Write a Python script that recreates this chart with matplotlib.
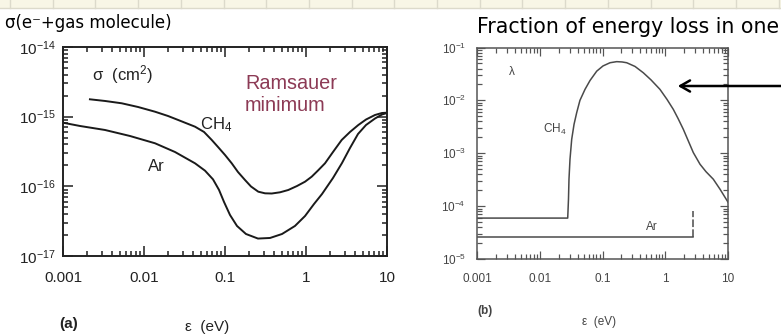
import matplotlib
matplotlib.use("Agg")
import matplotlib.pyplot as plt
from matplotlib.ticker import LogLocator, FixedLocator, FixedFormatter, NullFormatter
from matplotlib.lines import Line2D
from matplotlib.patches import Rectangle, FancyArrowPatch

plt.rcParams["font.family"] = ["Liberation Sans", "DejaVu Sans"]
plt.rcParams["mathtext.fontset"] = "custom"
plt.rcParams["mathtext.rm"] = "Liberation Sans"
plt.rcParams["mathtext.it"] = "Liberation Sans"
plt.rcParams["mathtext.default"] = "regular"

# ---- (a) electron-molecule cross section sigma (cm^2) vs energy (eV)
ch4_sigma_e = [0.00215, 0.0033, 0.00531, 0.00844, 0.01368, 0.01977, 0.02648,
               0.04266, 0.0551, 0.0686, 0.082, 0.1, 0.1211, 0.1445, 0.1766,
               0.2094, 0.2575, 0.312, 0.3776, 0.4777, 0.604, 0.7745, 0.973,
               1.175, 1.406, 1.716, 2.154, 2.759, 3.493, 4.424, 5.506, 7.11,
               8.67, 10.0]
ch4_sigma = [1.775e-15, 1.68e-15, 1.556e-15, 1.377e-15, 1.178e-15, 1.023e-15,
             8.95e-16, 7.18e-16, 6.03e-16, 4.63e-16, 3.67e-16, 2.82e-16,
             2.14e-16, 1.607e-16, 1.233e-16, 9.95e-17, 8.38e-17, 7.94e-17,
             7.89e-17, 8.21e-17, 8.86e-17, 1.011e-16, 1.166e-16, 1.375e-16,
             1.687e-16, 2.14e-16, 3.11e-16, 4.63e-16, 6.03e-16, 7.59e-16,
             9.1e-16, 1.057e-15, 1.129e-15, 1.14e-15]
ar_sigma_e = [0.001, 0.00162, 0.0033, 0.00671, 0.01368, 0.02415, 0.04266,
              0.0566, 0.0711, 0.0843, 0.0973, 0.1153, 0.1406, 0.1815, 0.2553,
              0.36, 0.506, 0.731, 0.973, 1.256, 1.577, 2.154, 2.782, 3.493,
              4.385, 5.506, 7.11, 8.67, 10.0]
ar_sigma = [8.19e-16, 7.35e-16, 6.44e-16, 5.28e-16, 4.15e-16, 3.11e-16,
            2.14e-16, 1.68e-16, 1.26e-16, 8.9e-17, 5.96e-17, 3.88e-17,
            2.7e-17, 2.07e-17, 1.78e-17, 1.815e-17, 2.07e-17, 2.7e-17,
            3.75e-17, 5.58e-17, 7.76e-17, 1.318e-16, 2.16e-16, 3.55e-16,
            5.64e-16, 7.59e-16, 9.41e-16, 1.074e-15, 1.129e-15]

# ---- (b) fraction of energy lost per collision lambda vs energy (eV)
ch4_lambda_e = [0.001, 0.0279, 0.0287, 0.02923, 0.03034, 0.0323, 0.0352,
                0.0388, 0.0437, 0.0526, 0.0633, 0.0809, 0.1019, 0.1318, 0.1683,
                0.2047, 0.2432, 0.33, 0.4467, 0.593, 0.824, 1.066, 1.344, 1.596,
                1.94, 2.306, 2.8, 3.58, 4.46, 5.83, 7.46, 10.0]
ch4_lambda = [5.94e-5, 5.94e-5, 1.355e-4, 3.23e-4, 7.7e-4, 1.837e-3, 3.53e-3,
              5.86e-3, 0.01, 0.01614, 0.0238, 0.0357, 0.0448, 0.0515, 0.054,
              0.0533, 0.0515, 0.0438, 0.0333, 0.0244, 0.01614, 0.01044,
              6.76e-3, 4.57e-3, 2.84e-3, 1.76e-3, 1.03e-3, 6.2e-4, 4.48e-4,
              3.23e-4, 2.09e-4, 1.19e-4]
ar_lambda_e = [0.001, 2.74]
ar_lambda = [2.57e-5, 2.57e-5]
ar_cutoff_e = [2.74, 2.74]
ar_cutoff = [2.57e-5, 8.1e-5]

x_ticks = [0.001, 0.01, 0.1, 1, 10]
x_ticklabels = ["0.001", "0.01", "0.1", "1", "10"]

W, H = 781, 335
fig = plt.figure(figsize=(W / 100, H / 100), dpi=100)
fig.patch.set_facecolor("white")


def fx(px):
    return px / W


def fy(py):
    return 1 - py / H


# notebook paper strip along the top edge
fig.add_artist(Rectangle((0, fy(7.5)), 1, 7.5 / H, transform=fig.transFigure,
                         facecolor="#f8f6e6", edgecolor="none", zorder=0))
fig.add_artist(Line2D([0, 1], [fy(7.5), fy(7.5)], transform=fig.transFigure,
                      color="#dcdacb", lw=1.0))
gx = 10.0
while gx < W:
    fig.add_artist(Line2D([fx(gx), fx(gx)], [fy(7.5), 1], transform=fig.transFigure,
                          color="#dcdacb", lw=1.0))
    gx += 42.7


def style_log_axes(ax, color, major_len, minor_len, width, labelsize, labelcolor,
                   xpad, ypad):
    ax.set_xscale("log")
    ax.set_yscale("log")
    for s in ax.spines.values():
        s.set_color(color)
        s.set_linewidth(width)
    ax.xaxis.set_major_locator(FixedLocator(x_ticks))
    ax.xaxis.set_major_formatter(FixedFormatter(x_ticklabels))
    ax.xaxis.set_minor_locator(LogLocator(base=10, subs=(2, 3, 4, 5, 6, 7, 8, 9)))
    ax.xaxis.set_minor_formatter(NullFormatter())
    ax.yaxis.set_minor_locator(LogLocator(base=10, subs=(2, 3, 4, 5, 6, 7, 8, 9)))
    ax.yaxis.set_minor_formatter(NullFormatter())
    ax.tick_params(which="both", direction="in", top=True, right=True,
                   color=color, width=width * 0.8)
    ax.tick_params(which="major", length=major_len, labelsize=labelsize,
                   labelcolor=labelcolor)
    ax.tick_params(axis="x", which="major", pad=xpad)
    ax.tick_params(axis="y", which="major", pad=ypad)
    ax.tick_params(which="minor", length=minor_len)


# ---------- panel (a)
axa = fig.add_axes([fx(63), fy(256), fx(387 - 63), (256 - 47) / H])
axa.plot(ch4_sigma_e, ch4_sigma, color="#1a1a1a", lw=1.4)
axa.plot(ar_sigma_e, ar_sigma, color="#1a1a1a", lw=1.4)
axa.set_xlim(0.001, 10)
axa.set_ylim(1e-17, 1e-14)
style_log_axes(axa, "#222222", 7, 3.5, 1.4, 11, "#222222", 11, 5)
axa.text(0.00228, 3.96e-15, "σ  (cm$^2$)", fontsize=12, color="#222222",
         va="center", ha="left")
axa.text(0.0491, 7.59e-16, "CH$_4$", fontsize=12, color="#222222",
         va="center", ha="left")
axa.text(0.0112, 1.9e-16, "Ar", fontsize=12, color="#222222",
         va="center", ha="left")
axa.text(0.1766, 2.05e-15, "Ramsauer\nminimum", fontsize=14.3, color="#8c3a55",
         va="center", ha="left", linespacing=1.2)

fig.text(fx(69), fy(324), "(a)", fontsize=11, fontweight="bold", color="#222222",
         ha="center", va="center")
fig.text(fx(207), fy(327), "ε  (eV)", fontsize=11, color="#222222",
         ha="center", va="center")

# ---------- panel (b)
axb = fig.add_axes([fx(477), fy(259), fx(728 - 477), (259 - 47.5) / H])
axb.plot(ch4_lambda_e, ch4_lambda, color="#4a4a4a", lw=1.1)
axb.plot(ar_lambda_e, ar_lambda, color="#4a4a4a", lw=1.1)
axb.plot(ar_cutoff_e, ar_cutoff, color="#4a4a4a", lw=1.1, ls=(0, (5, 1.5)))
axb.set_xlim(0.001, 10)
axb.set_ylim(1e-5, 1e-1)
style_log_axes(axb, "#555555", 5.5, 3.5, 1.1, 8.5, "#444444", 10, 8)
axb.text(0.00357, 0.0337, "λ", fontsize=8.5, color="#444444", va="center",
         ha="center")
axb.text(0.0175, 2.84e-3, "CH$_4$", fontsize=8.5, color="#444444",
         va="center", ha="center")
axb.text(0.615, 4.02e-5, "Ar", fontsize=8.5, color="#444444", va="center",
         ha="center")

fig.text(fx(485), fy(311), "(b)", fontsize=8.5, fontweight="bold", color="#444444",
         ha="center", va="center")
fig.text(fx(599), fy(322), "ε  (eV)", fontsize=8.5, color="#444444",
         ha="center", va="center")

# ---------- handwritten notes
fig.text(fx(5), fy(23), "σ(e\u207b+gas molecule)", fontsize=12, color="black",
         family=["DejaVu Sans"], ha="left", va="center")
fig.text(fx(477), fy(27), "Fraction of energy loss in one", fontsize=14.8,
         color="black", family=["DejaVu Sans"], ha="left", va="center")
fig.add_artist(FancyArrowPatch(
    (fx(790), fy(86)), (fx(675), fy(86)), transform=fig.transFigure,
    arrowstyle="->,head_length=7,head_width=4", color="black", lw=1.8,
    mutation_scale=1))

fig.savefig("out.png", dpi=100)
